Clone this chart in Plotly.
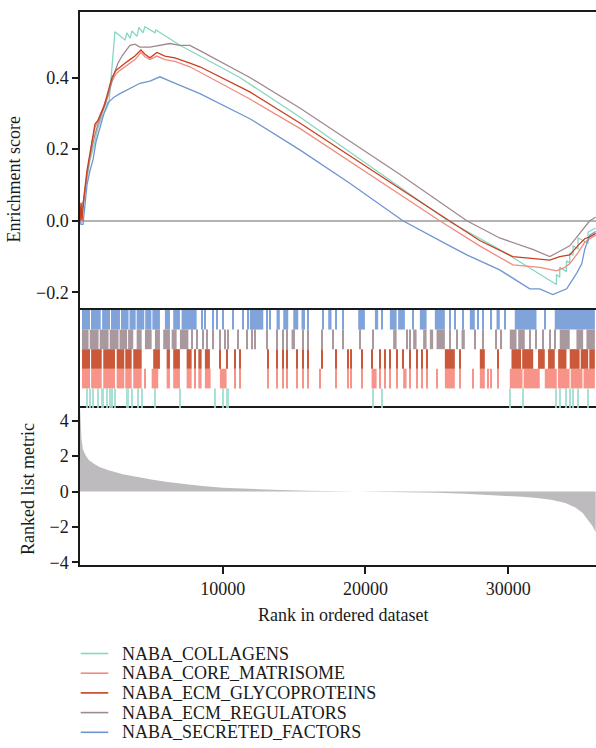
import plotly.graph_objects as go

# ---------------- data ----------------
SET_NAMES = ["NABA_COLLAGENS", "NABA_CORE_MATRISOME", "NABA_ECM_GLYCOPROTEINS",
             "NABA_ECM_REGULATORS", "NABA_SECRETED_FACTORS"]
SET_COLORS = ["#86d6c3", "#f28b80", "#c8401f", "#a0888f", "#6f95d3"]
HIT_COLORS = ["#9fddcf", "#f8857a", "#c3411e", "#9e8a90", "#6f97d6"]

X_MAX = 36150
X_TICKS = [10000, 20000, 30000]
X_TICK_TEXT = ["10000", "20000", "30000"]

# running enrichment score curves (rank, ES)
COLL_RANK = [0, 70, 280, 490, 700, 980, 1260, 1540, 1820, 2030, 2170, 2310, 2450, 3150, 3220, 3290, 3500,
             3570, 3640, 3990, 4060, 4130, 4410, 4480, 4550, 5250, 5320, 7000, 8400, 11200, 15400, 22400,
             25770, 29400, 33380, 33380, 33610, 33610, 34080, 34080, 34310, 34310, 34540, 34540, 34890,
             34890, 35590, 35590, 36130]
COLL_ES = [0, -0.005, 0.06, 0.12, 0.17, 0.21, 0.26, 0.29, 0.31, 0.33, 0.40, 0.48, 0.528, 0.505, 0.52, 0.525,
           0.51, 0.525, 0.53, 0.515, 0.53, 0.54, 0.525, 0.535, 0.542, 0.525, 0.533, 0.49, 0.46, 0.40, 0.29,
           0.094, 0.0, -0.08, -0.178, -0.15, -0.158, -0.13, -0.142, -0.112, -0.118, -0.09, -0.096, -0.07,
           -0.078, -0.048, -0.062, -0.032, -0.02]

CORE_RANK = [0, 70, 280, 490, 700, 840, 1050, 1260, 1470, 1680, 1960, 2240, 2520, 2800, 3150, 3500, 3850,
             4270, 4550, 4900, 5390, 5950, 6650, 7700, 8400, 11900, 15400, 22400, 25200, 28000, 30320,
             32210, 33400, 33960, 34310, 34870, 35360, 35710, 36130]
CORE_ES = [0, 0.04, 0.06, 0.13, 0.18, 0.22, 0.26, 0.28, 0.30, 0.32, 0.35, 0.39, 0.41, 0.42, 0.43, 0.44,
           0.45, 0.47, 0.458, 0.45, 0.46, 0.45, 0.445, 0.43, 0.415, 0.34, 0.258, 0.075, 0.0, -0.07,
           -0.123, -0.13, -0.14, -0.13, -0.12, -0.09, -0.06, -0.05, -0.04]

GLY_RANK = [0, 70, 140, 280, 490, 700, 840, 1050, 1260, 1470, 1680, 1960, 2240, 2520, 2800, 3150, 3500,
            3850, 4270, 4550, 4900, 5390, 5950, 6650, 7700, 8400, 11900, 15400, 22400, 25900, 28000,
            30320, 31510, 32910, 33610, 34310, 34870, 35360, 35710, 36130]
GLY_ES = [0, 0.05, 0.0, 0.07, 0.14, 0.19, 0.22, 0.27, 0.28, 0.30, 0.32, 0.36, 0.40, 0.42, 0.43, 0.44,
          0.45, 0.46, 0.477, 0.465, 0.455, 0.47, 0.46, 0.455, 0.44, 0.43, 0.36, 0.273, 0.09, 0.0,
          -0.055, -0.10, -0.105, -0.11, -0.10, -0.095, -0.07, -0.05, -0.045, -0.035]

REG_RANK = [0, 280, 490, 700, 980, 1260, 1540, 1820, 2100, 2380, 2660, 2940, 3220, 3500, 3850, 4200,
            4900, 5600, 6300, 7000, 7700, 8400, 11900, 15400, 22400, 27100, 29400, 31720, 32910, 33610,
            34310, 35010, 35710, 36130]
REG_ES = [0, 0.06, 0.13, 0.18, 0.23, 0.27, 0.30, 0.33, 0.37, 0.41, 0.44, 0.46, 0.475, 0.49, 0.493,
          0.485, 0.485, 0.49, 0.495, 0.49, 0.49, 0.475, 0.40, 0.315, 0.13, 0.0, -0.048, -0.08, -0.1,
          -0.085, -0.07, -0.035, 0.0, 0.01]

SEC_RANK = [0, 70, 210, 350, 490, 700, 910, 1120, 1400, 1680, 1960, 2380, 2800, 3500, 4200, 4900, 5600,
            6300, 8400, 11900, 15400, 18900, 22620, 25900, 27100, 29400, 31510, 32210, 33120, 34100,
            34800, 35150, 35360, 35710, 36130]
SEC_ES = [0, -0.01, -0.01, 0.05, 0.10, 0.14, 0.17, 0.22, 0.26, 0.30, 0.33, 0.345, 0.355, 0.37, 0.384,
          0.39, 0.402, 0.39, 0.355, 0.285, 0.198, 0.105, 0.0, -0.07, -0.095, -0.137, -0.19, -0.19,
          -0.206, -0.19, -0.146, -0.12, -0.08, -0.04, -0.03]

# gene-set hits (rank, or [start, end] for dense runs)
COLL_HITS = [470, 700, 930, 1280, 1520, 1630, 1870, 2100, 2220, 2450, 3270, 3380, 3620, 4080, 4320, 5250,
             7000, 9450, 10040, 10270, 10390, 20540, 21130, 30110, 31040, 33380, 33610, 34080, 34310,
             34540, 34890, 35590]
CORE_HITS = [[140, 700], [780, 1520], [1630, 2450], [2570, 3100], [3170, 3620], [3730, 4320], 4550,
             [5020, 5480], [6070, 6300], [6530, 7000], [7470, 7820], 8050, [8290, 8520], [8750, 9150],
             [9800, 10270], 10850, 11200, 13190, 13770, 14240, 14470, 15170, 15640, 15990, 16800, 17970,
             18790, 19020, 19730, [20430, 20780], 21010, 21360, 21710, 22180, [22640, 22880], 23110,
             23580, 23930, 24280, 24980, [25560, 26260], 26610, 27540, [28010, 28360], 28590, 28830,
             29290, [30110, 31000], [31080, 32210], [32560, 33400], [33480, 34300], [34380, 35200],
             [35280, 36070]]
GLY_HITS = [[140, 700], [780, 1520], [1630, 2450], [2570, 3100], [3170, 3620], [3730, 4320],
            [5130, 5600], [6070, 6300], [6530, 7000], [7470, 7820], 8050, [8290, 8520], [8750, 9100],
            9800, 10270, 10850, 11200, 13190, 13770, 14240, 14470, 15170, 15640, 15990, 16930, 17970,
            18790, 19020, 19730, 20430, 21010, 21360, 21710, 22180, 22640, 23110, 23580, 23930, 24280,
            [25560, 26260], 26610, [28010, 28360], 29290, [30230, 30900], [30980, 31750], [32090, 32560],
            [32790, 33260], [33500, 34080], [34310, 35000], [35080, 35600], [35680, 36070]]
REG_HITS = [[140, 600], [680, 1300], [1380, 2000], [2080, 2700], [2770, 3300], [3370, 3730],
            [3970, 4320], [4550, 5020], [5250, 5600], [5830, 6300], [6420, 6770], [7000, 7590], 7820,
            8170, 8640, 8870, 9340, 9800, 10150, 10390, 11090, 11670, 12020, 12260, 13070, 13770, 14240,
            14470, [14820, 15060], 15640, 15990, 16930, 17740, 18440, 19610, 20540, [21940, 22180],
            22880, 23110, [23340, 23580], [24040, 24280], [24510, 24740], [24980, 25560], 25910, 26380,
            [26730, 26960], 27660, 28240, 29180, 29530, [30110, 30580], [30700, 31160], 31510, 31980,
            32440, 32910, 33260, [33610, 34310], [34780, 35250], [35480, 36070]]
SEC_HITS = [[140, 700], [770, 1450], [1550, 2100], [2170, 2800], [2870, 3400], [3470, 3900],
            [3970, 4500], [4570, 5000], [5070, 5600], [5950, 6300], [6530, 7000], [7120, 8170], 8520,
            8750, 9340, 9570, 10040, 10740, 11440, 11790, [11900, 12840], 13070, 13300, [13770, 14000],
            [14240, 14590], [14940, 15290], [15520, 15760], 15990, 17040, [17390, 17620], 17970, 18440,
            [19490, 19960], [20660, 20890], 21130, [21710, 22180], [22290, 22760], 23340, [23810, 24280],
            [24860, 25560], 25910, 26260, 26840, [27310, 27660], 27900, 28240, 28830, [29180, 29410],
            29760, [30460, 31980], 32560, [33260, 36070]]

# ranked list metric
MET_RANK = [0, 40, 100, 200, 350, 600, 1000, 1400, 2000, 3000, 3700, 5000, 6000, 7000, 8400, 10000,
            12000, 14000, 16000, 18000, 20000, 21500, 23000, 25000, 27000, 29000, 30000, 31000, 32000,
            33000, 34000, 34700, 35200, 35600, 35900, 36130]
MET_VAL = [4.8, 4.0, 3.0, 2.4, 2.1, 1.8, 1.55, 1.37, 1.2, 0.98, 0.87, 0.68, 0.56, 0.45, 0.33, 0.22,
           0.14, 0.09, 0.05, 0.03, 0.01, 0.0, -0.03, -0.07, -0.12, -0.19, -0.25, -0.3, -0.37, -0.47,
           -0.65, -0.9, -1.2, -1.6, -1.95, -2.3]

ES_CURVES = [(COLL_RANK, COLL_ES), (CORE_RANK, CORE_ES), (GLY_RANK, GLY_ES),
             (REG_RANK, REG_ES), (SEC_RANK, SEC_ES)]
HITS = [COLL_HITS, CORE_HITS, GLY_HITS, REG_HITS, SEC_HITS]

# ---------------- figure ----------------
FONT = "Liberation Serif, Tinos, Times New Roman, DejaVu Serif, serif"
INK = "#1a1a1a"
W, H = 596, 748
ML, MR, MT, MB = 80, 0, 12, 183
PH = H - MT - MB  # plot-area height in px


def py(y_px):
    return (H - MB - y_px) / PH


def px(x_px):
    return (x_px - ML) / (W - ML - MR)


fig = go.Figure()

# ES curves (top panel)
draw_order = [0, 1, 3, 4, 2]
for i in draw_order:
    r, es = ES_CURVES[i]
    fig.add_trace(go.Scatter(x=r, y=es, mode="lines", name=SET_NAMES[i],
                             line=dict(color=SET_COLORS[i], width=1.3),
                             xaxis="x2", yaxis="y2", showlegend=False, hoverinfo="skip"))

# hit bars (middle panel); row 0 = bottom
for i, hits in enumerate(HITS):
    mids, widths = [], []
    for h in hits:
        if isinstance(h, list):
            a, b = h
        else:
            a, b = h, h
        w = max(b - a, 75)
        mids.append((a + b) / 2)
        widths.append(w)
    fig.add_trace(go.Bar(x=mids, y=[1] * len(mids), base=[i] * len(mids), width=widths,
                         marker=dict(color=HIT_COLORS[i], line=dict(width=0)), opacity=0.88,
                         xaxis="x3", yaxis="y3", showlegend=False, hoverinfo="skip"))

# ranked list metric (bottom panel)
fig.add_trace(go.Scatter(x=MET_RANK, y=MET_VAL, mode="lines", fill="tozeroy",
                         fillcolor="#bdbbbe", line=dict(width=0, color="#bdbbbe"),
                         xaxis="x", yaxis="y", showlegend=False, hoverinfo="skip"))

axis_line = dict(linecolor=INK, linewidth=1.5, showgrid=False)
tickfont = dict(family=FONT, size=18, color=INK)

D_BOT = (0, py(408))
D_HIT = (py(408), py(308))
D_TOP = (py(308), 1)

fig.update_layout(
    width=W, height=H, autosize=False,
    margin=dict(l=ML, r=MR, t=MT, b=MB, pad=0),
    paper_bgcolor="white", plot_bgcolor="white",
    barmode="overlay",
    font=dict(family=FONT, size=18, color=INK),
    xaxis=dict(range=[0, X_MAX], anchor="y", showline=True, mirror=True, tickvals=X_TICKS,
               ticktext=X_TICK_TEXT, ticks="outside", ticklen=7, tickwidth=1.5, tickcolor=INK,
               tickfont=tickfont, zeroline=False, **axis_line),
    yaxis=dict(domain=list(D_BOT), range=[-4.15, 4.72], anchor="x", showline=True,
               tickvals=[-4, -2, 0, 2, 4], ticktext=["\u22124", "\u22122", "0", "2", "4"],
               ticks="outside", ticklen=6, tickwidth=1.5, tickcolor=INK, tickfont=tickfont,
               zeroline=False, **axis_line),
    xaxis2=dict(range=[0, X_MAX], anchor="y2", showline=True, mirror=True, showticklabels=False,
                ticks="", zeroline=False, **axis_line),
    yaxis2=dict(domain=list(D_TOP), range=[-0.2435, 0.583], anchor="x2", showline=True,
                tickvals=[-0.2, 0.0, 0.2, 0.4], ticktext=["\u22120.2", "0.0", "0.2", "0.4"],
                ticks="outside", ticklen=6, tickwidth=1.5, tickcolor=INK, tickfont=tickfont,
                zeroline=True, zerolinecolor="#b3b3b3", zerolinewidth=1.5, **axis_line),
    xaxis3=dict(range=[0, X_MAX], anchor="y3", showline=False, showticklabels=False, ticks="",
                zeroline=False, **axis_line),
    yaxis3=dict(domain=list(D_HIT), range=[0, 5.1], anchor="x3", showline=True,
                showticklabels=False, ticks="", zeroline=False, **axis_line),
)

annotations = [
    dict(text="Enrichment score", x=px(13.5), y=py(180), textangle=-90),
    dict(text="Ranked list metric", x=px(28), y=py(489), textangle=-90),
    dict(text="Rank in ordered dataset", x=px(342.5), y=py(615), textangle=0),
]
for a in annotations:
    fig.add_annotation(xref="paper", yref="paper", showarrow=False, xanchor="center",
                       yanchor="middle", font=dict(family=FONT, size=18, color=INK), **a)

# legend (drawn manually to match spacing)
LEG_Y = [653.5, 673.2, 692.9, 712.6, 732.3]
for i, name in enumerate(SET_NAMES):
    yy = py(LEG_Y[i])
    fig.add_shape(type="line", xref="paper", yref="paper", x0=px(80.7), x1=px(108.3), y0=yy, y1=yy,
                  line=dict(color=SET_COLORS[i], width=1.6))
    fig.add_annotation(xref="paper", yref="paper", x=px(120), y=yy, text=name, showarrow=False,
                       xanchor="left", yanchor="middle", font=dict(family=FONT, size=18, color=INK))

fig.write_html("out.html")
